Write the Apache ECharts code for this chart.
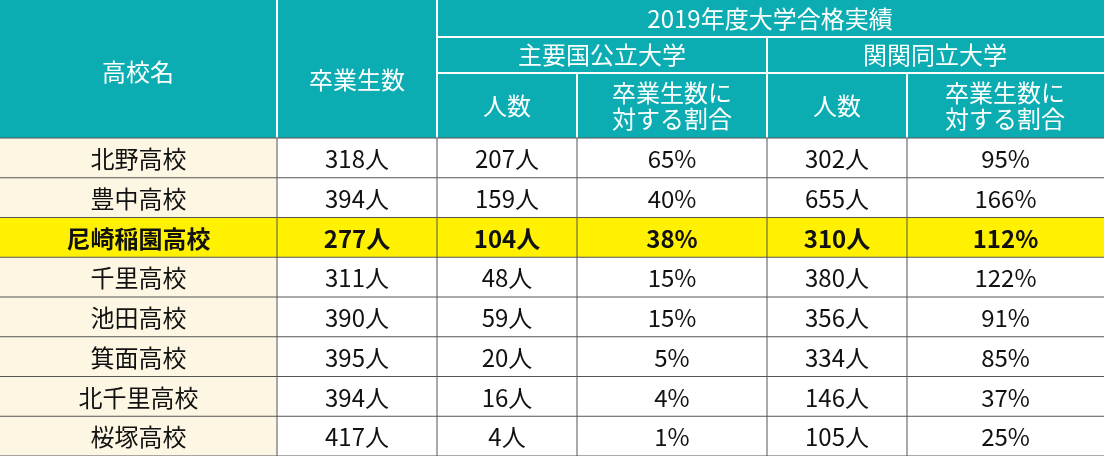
<!DOCTYPE html>
<html><head><meta charset="utf-8">
<script src="https://cdn.jsdelivr.net/npm/echarts@6/dist/echarts.min.js"></script>
<style>html,body{margin:0;padding:0;background:#fff}#c{width:1104px;height:456px}</style>
</head><body><div id="c"></div>
<script>
var schools = ['北野高校','豊中高校','尼崎稲園高校','千里高校','池田高校','箕面高校','北千里高校','桜塚高校'];
var graduates = ['318人','394人','277人','311人','390人','395人','394人','417人'];
var natCount = ['207人','159人','104人','48人','59人','20人','16人','4人'];
var natRate = ['65%','40%','38%','15%','15%','5%','4%','1%'];
var kkCount = ['302人','655人','310人','380人','356人','334人','146人','105人'];
var kkRate = ['95%','166%','112%','122%','91%','85%','37%','25%'];
var highlightRow = 2;

var colX = [0, 277, 437, 577, 767, 907, 1104];
var rowH = (456 - 138) / 8;
var teal = '#0BADB3', font = '"Noto Sans CJK JP", sans-serif';

var g = [];
function rect(x, y, w, h, fill) {
    g.push({type:'rect', shape:{x:x, y:y, width:w, height:h}, style:{fill:fill, stroke:null}});
}
function line(x1, y1, x2, y2, c, w) {
    g.push({type:'line', shape:{x1:x1, y1:y1, x2:x2, y2:y2}, style:{stroke:c, lineWidth:w}, z:5});
}
function text(t, x, y, color, bold) {
    g.push({type:'text', x:x, y:y, z:10, style:{text:t, fill:color, font:(bold?'bold ':'') + '24px ' + font,
        textAlign:'center', textVerticalAlign:'middle', lineHeight:26}});
}

// header
rect(0, 0, 1104, 138, teal);
text('高校名', 138, 72, '#fff');
text('卒業生数', 357, 80, '#fff');
text('2019年度大学合格実績', 770, 19, '#fff');
text('主要国公立大学', 602, 55, '#fff');
text('関関同立大学', 935, 55, '#fff');
text('人数', 507, 106, '#fff');
text('卒業生数に\n対する割合', 672, 106, '#fff');
text('人数', 837, 106, '#fff');
text('卒業生数に\n対する割合', 1005, 106, '#fff');
line(437, 37, 1104, 37, '#fff', 2);
line(437, 73, 1104, 73, '#fff', 2);
line(277, 0, 277, 138, '#fff', 2);
line(437, 0, 437, 138, '#fff', 2);
line(767, 37, 767, 138, '#fff', 2);
line(577, 73, 577, 138, '#fff', 2);
line(907, 73, 907, 138, '#fff', 2);

// body
var cols = [schools, graduates, natCount, natRate, kkCount, kkRate];
for (var r = 0; r < schools.length; r++) {
    var y = 138 + r * rowH;
    var hl = r === highlightRow;
    rect(0, y, 277, rowH, hl ? '#FFF100' : '#FDF6E3');
    rect(277, y, 827, rowH, hl ? '#FFF100' : '#fff');
    for (var c = 0; c < cols.length; c++) {
        text(cols[c][r], (colX[c] + colX[c + 1]) / 2, y + rowH / 2 + 1, '#111', hl);
    }
    line(0, y + rowH, 1104, y + rowH, '#555', 1);
}
for (var c = 1; c < colX.length - 1; c++) line(colX[c], 138, colX[c], 456, '#555', 1);
line(0, 138, 1104, 138, '#555', 1);

var chart = echarts.init(document.getElementById('c'));
chart.setOption({animation:false, graphic:g});
</script></body></html>
